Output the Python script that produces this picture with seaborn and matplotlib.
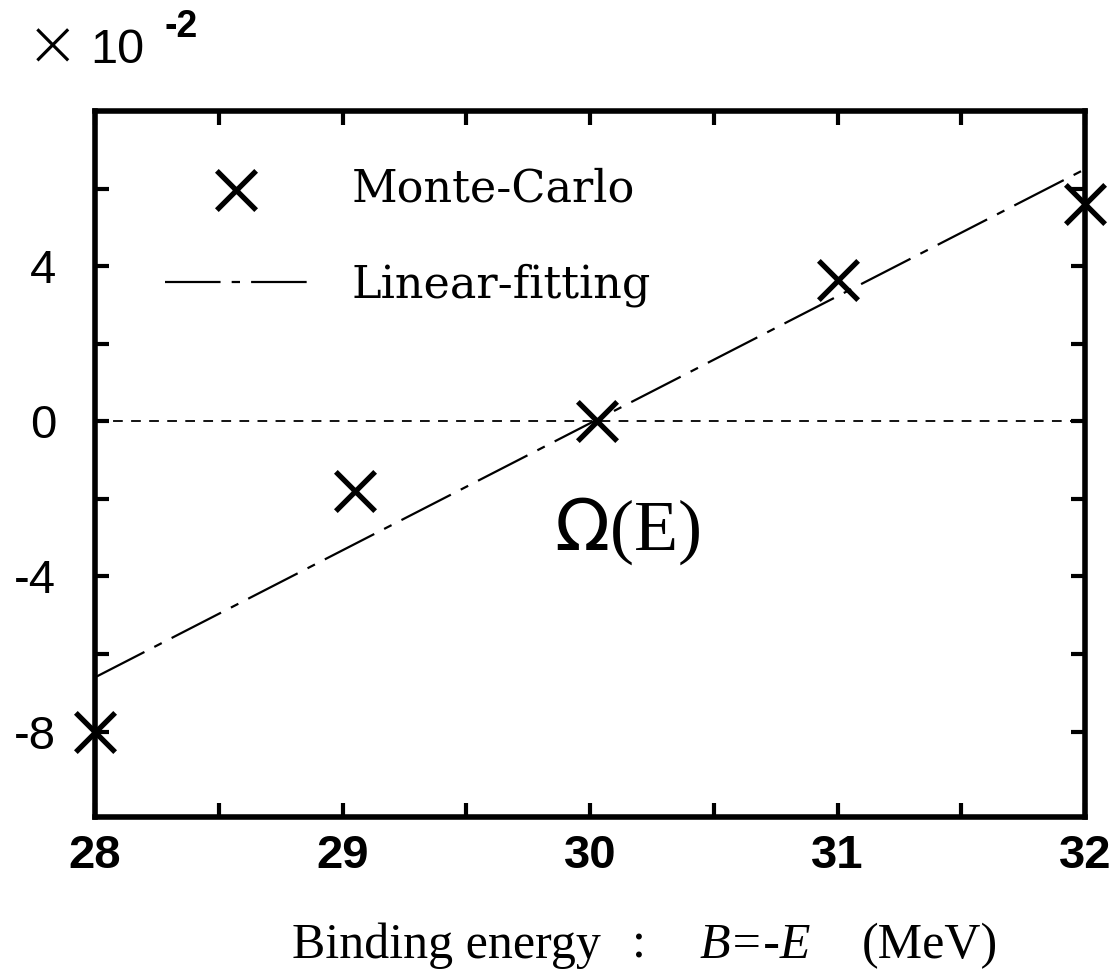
import numpy as np
import pandas as pd
import matplotlib
matplotlib.use("Agg")
import matplotlib.pyplot as plt
import seaborn as sns

sns.set_style("white")
plt.rcParams["font.family"] = ["Liberation Sans", "DejaVu Sans"]
plt.rcParams["lines.scale_dashes"] = False
plt.rcParams["text.color"] = "black"

# Monte-Carlo points (x10^-2)
mc_energy = [28.0, 29.05, 30.03, 31.0, 32.0]
mc_omega = [-8.0, -1.8, 0.0, 3.65, 5.6]
# linear fit end points
fit_energy = [28.0, 32.0]
fit_omega = [-6.6, 6.5]

x_ticks = [28, 29, 30, 31, 32]
y_ticks = [-8, -4, 0, 4]

df_mc = pd.DataFrame({"E": mc_energy, "Omega": mc_omega})
df_fit = pd.DataFrame({"E": fit_energy, "Omega": fit_omega})

W, H = 1120, 974
fig = plt.figure(figsize=(11.2, 9.74), dpi=100)
ax = fig.add_axes([95 / W, 1 - 817 / H, 990 / W, 706 / H])

ax.axhline(0, color="black", lw=1.3, linestyle=(0, (7, 6)), zorder=1)
sns.lineplot(data=df_fit, x="E", y="Omega", ax=ax, color="black", lw=1.6,
             label="Linear-fitting", zorder=2)
ax.lines[-1].set_linestyle((0, (40, 8, 6, 8)))
sns.scatterplot(data=df_mc, x="E", y="Omega", ax=ax, marker="x", s=800,
                color="black", linewidth=3.8, label="Monte-Carlo", zorder=3,
                clip_on=False)

ax.set_xlim(28, 32)
ax.set_ylim(-10.2, 8)
ax.set_xticks(x_ticks)
ax.set_xticks(np.arange(28, 32.01, 0.5), minor=True)
ax.set_yticks(y_ticks)
ax.set_yticks(np.arange(-6, 6.01, 2), minor=True)
ax.set_xticklabels([str(t) for t in x_ticks], fontsize=34, fontweight="bold",
                   color="black")
ax.set_yticklabels([str(t) for t in y_ticks], fontsize=34, color="black")
ax.tick_params(which="both", direction="in", top=True, right=True,
               bottom=True, left=True, length=10, width=3, color="black")
ax.tick_params(axis="x", which="both", pad=12)
ax.tick_params(axis="y", which="both", pad=28)
for s in ax.spines.values():
    s.set_linewidth(4)
    s.set_color("black")
ax.set_xlabel("")
ax.set_ylabel("")

handles, labels = ax.get_legend_handles_labels()
order = [labels.index("Monte-Carlo"), labels.index("Linear-fitting")]
ax.legend([handles[i] for i in order], [labels[i] for i in order],
          loc="upper left", bbox_to_anchor=(70 / 990, (817 - 167) / 706),
          frameon=False, borderaxespad=0, borderpad=0,
          prop={"family": "DejaVu Serif", "size": 32},
          handlelength=3.2, handletextpad=1.0, labelspacing=1.2)

ax.text(30.15, -2.84, r"$\Omega$(E)", fontsize=52, family="Liberation Serif",
        ha="center", va="center")

fig.text(52 / W, 1 - 48 / H, "\u00d7", fontsize=46, ha="center",
         va="center", family="DejaVu Sans", fontweight="light")
fig.text(90 / W, 1 - 63 / H, "10", fontsize=35, ha="left", va="baseline")
fig.text(165 / W, 1 - 37 / H, "-2", fontsize=27, fontweight="bold",
         ha="left", va="baseline")

base = 1 - 958 / H
serif = "Liberation Serif"
fig.text(292 / W, base, "Binding energy", fontsize=36, family=serif,
         ha="left", va="baseline")
fig.text(632 / W, base, ":", fontsize=36, family=serif, ha="left",
         va="baseline")
fig.text(700 / W, base, "B=-E", fontsize=36, family=serif, style="italic",
         ha="left", va="baseline")
fig.text(862 / W, base, "(MeV)", fontsize=36, family=serif, ha="left",
         va="baseline")

fig.savefig("out.png", dpi=100)
